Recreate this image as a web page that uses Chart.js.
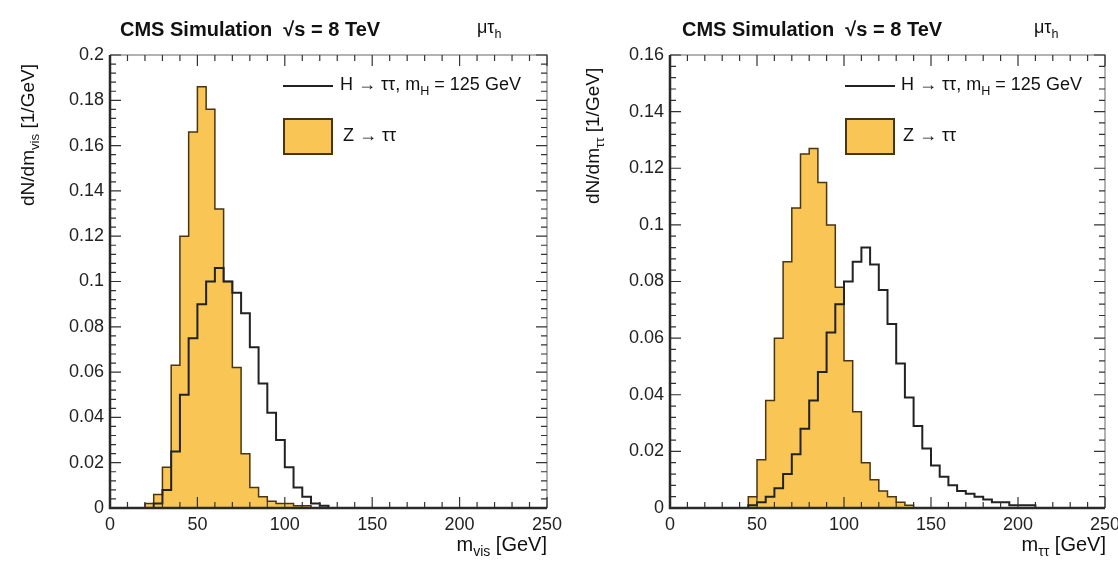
<!DOCTYPE html>
<html>
<head>
<meta charset="utf-8">
<script src="https://cdn.jsdelivr.net/npm/chart.js@4/dist/chart.umd.min.js"></script>
<style>
  body { margin: 0; background: #fff; font-family: "Liberation Sans", Arial, sans-serif; color: #111; }
  #wrap { position: relative; width: 1118px; height: 564px; overflow: hidden; }
  canvas { position: absolute; top: 0; }
  .txt { position: absolute; white-space: nowrap; }
  .head { font-weight: bold; font-size: 20px; top: 18px; }
  .chan { font-size: 18px; top: 17px; }
  .ytitle { font-size: 19px; transform-origin: left top; transform: rotate(-90deg); }
  .xtitle { font-size: 20px; top: 533px; text-align: right; }
  .leg { font-size: 18px; }
  sub { font-size: 70%; }
  .swline { position: absolute; height: 2px; background: #222; }
  .swbox { position: absolute; background: #f9c655; border: 2px solid #4a3510; box-sizing: border-box; }
</style>
</head>
<body>
<div id="wrap">
  <canvas id="left" width="580" height="564" style="left:0"></canvas>
  <canvas id="right" width="580" height="564" style="left:559px"></canvas>

  <div class="txt head" style="left:120px">CMS Simulation &nbsp;√s = 8 TeV</div>
  <div class="txt chan" style="left:477px">μτ<sub>h</sub></div>
  <div class="txt head" style="left:682px">CMS Simulation &nbsp;√s = 8 TeV</div>
  <div class="txt chan" style="left:1034px">μτ<sub>h</sub></div>

  <div class="txt ytitle" style="left:17px; top:206px">dN/dm<sub>vis</sub> [1/GeV]</div>
  <div class="txt ytitle" style="left:582px; top:204px">dN/dm<sub>ττ</sub> [1/GeV]</div>

  <div class="txt xtitle" style="left:0; width:547px">m<sub>vis</sub> [GeV]</div>
  <div class="txt xtitle" style="left:559px; width:547px">m<sub>ττ</sub> [GeV]</div>

  <div class="swline" style="left:283px; top:85px; width:50px"></div>
  <div class="txt leg" style="left:340px; top:74px">H → ττ, m<sub>H</sub> = 125 GeV</div>
  <div class="swbox" style="left:283px; top:118px; width:50px; height:37px"></div>
  <div class="txt leg" style="left:343px; top:125px">Z → ττ</div>

  <div class="swline" style="left:845px; top:85px; width:50px"></div>
  <div class="txt leg" style="left:901px; top:74px">H → ττ, m<sub>H</sub> = 125 GeV</div>
  <div class="swbox" style="left:845px; top:118px; width:50px; height:37px"></div>
  <div class="txt leg" style="left:903px; top:125px">Z → ττ</div>
</div>

<script>
// lower bin edges in GeV, 5 GeV wide bins
const massBins = [20, 25, 30, 35, 40, 45, 50, 55, 60, 65, 70, 75, 80, 85, 90, 95, 100, 105, 110, 115,
                  120, 125, 130, 135, 140, 145, 150, 155, 160, 165, 170, 175, 180, 185, 190, 195, 200, 205, 210, 215];
const binWidth = 5;

// visible mass
const zttVis = [0, 0.002, 0.006, 0.018, 0.063, 0.12, 0.166, 0.186, 0.176, 0.132, 0.1, 0.062, 0.024, 0.009, 0.005, 0.003, 0.002, 0.002, 0.001, 0.001,
                0, 0, 0, 0, 0, 0, 0, 0, 0, 0, 0, 0, 0, 0, 0, 0, 0, 0, 0, 0];
const httVis = [0, 0, 0.002, 0.008, 0.025, 0.05, 0.075, 0.09, 0.1, 0.106, 0.1, 0.095, 0.086, 0.071, 0.055, 0.042, 0.03, 0.018, 0.009, 0.005,
                0.002, 0.001, 0, 0, 0, 0, 0, 0, 0, 0, 0, 0, 0, 0, 0, 0, 0, 0, 0, 0];

// full (SVfit) mass
const zttMtt = [0, 0, 0, 0, 0, 0, 0.004, 0.017, 0.038, 0.06, 0.087, 0.106, 0.125, 0.127, 0.115, 0.1, 0.078, 0.052, 0.034, 0.016,
                0.01, 0.006, 0.004, 0.002, 0.001, 0, 0, 0, 0, 0, 0, 0, 0, 0, 0, 0, 0, 0, 0, 0];
const httMtt = [0, 0, 0, 0, 0, 0, 0.001, 0.002, 0.004, 0.007, 0.012, 0.019, 0.028, 0.038, 0.048, 0.062, 0.072, 0.08, 0.087, 0.092,
                0.086, 0.077, 0.065, 0.051, 0.039, 0.029, 0.021, 0.015, 0.011, 0.008, 0.006, 0.005, 0.004, 0.003, 0.002, 0.002, 0.001, 0.001, 0.001, 0];

const zFill = "#f9c655";
const zLine = "#4a3510";
const hLine = "#222";

// histogram -> stepped line points
function toSteps(values) {
  const pts = [{ x: massBins[0], y: 0 }];
  values.forEach((v, i) => pts.push({ x: massBins[i], y: v }));
  pts.push({ x: massBins[massBins.length - 1] + binWidth, y: 0 });
  return pts;
}

// ROOT-like frame with inner ticks
const framePlugin = {
  id: "frame",
  afterDatasetsDraw(chart) {
    const { ctx, chartArea: a, scales } = chart;
    ctx.save();
    ctx.strokeStyle = "#999";
    ctx.lineWidth = 1.5;
    ctx.beginPath();
    ctx.moveTo(a.left, a.top);
    ctx.lineTo(a.right, a.top);
    ctx.lineTo(a.right, a.bottom);
    ctx.stroke();

    ctx.strokeStyle = "#333";
    ctx.lineWidth = 1.2;
    ctx.beginPath();
    const xs = scales.x, ys = scales.y;
    for (let v = xs.min; v <= xs.max + 1e-9; v += 10) {
      const px = xs.getPixelForValue(v);
      const len = v % 50 === 0 ? 11 : 6;
      ctx.moveTo(px, a.bottom); ctx.lineTo(px, a.bottom - len);
      ctx.moveTo(px, a.top); ctx.lineTo(px, a.top + len);
    }
    const step = 0.004;
    for (let i = 0; i * step <= ys.max + 1e-9; i++) {
      const py = ys.getPixelForValue(i * step);
      const len = i % 5 === 0 ? 11 : 6;
      ctx.moveTo(a.left, py); ctx.lineTo(a.left + len, py);
      ctx.moveTo(a.right, py); ctx.lineTo(a.right - len, py);
    }
    ctx.stroke();

    ctx.strokeStyle = "#2a2a2a";
    ctx.lineWidth = 2.5;
    ctx.beginPath();
    ctx.moveTo(a.left, a.top);
    ctx.lineTo(a.left, a.bottom);
    ctx.lineTo(a.right, a.bottom);
    ctx.stroke();
    ctx.restore();
  },
};

const tickFont = { family: "Liberation Sans", size: 18 };

function makeChart(id, zVals, hVals, yMax, yWidth, padRight) {
  return new Chart(document.getElementById(id), {
    type: "line",
    data: {
      datasets: [
        {
          label: "H → ττ",
          data: toSteps(hVals),
          stepped: "after",
          borderColor: hLine,
          borderWidth: 2,
          fill: false,
        },
        {
          label: "Z → ττ",
          data: toSteps(zVals),
          stepped: "after",
          borderColor: zLine,
          borderWidth: 1.5,
          backgroundColor: zFill,
          fill: "origin",
        },
      ],
    },
    options: {
      responsive: false,
      animation: false,
      layout: { padding: { top: 55, right: padRight, left: 0, bottom: 0 } },
      elements: { point: { radius: 0 } },
      scales: {
        x: {
          type: "linear",
          min: 0,
          max: 250,
          grid: { display: false, drawTicks: false },
          border: { display: false },
          ticks: { stepSize: 50, padding: 6, color: "#222", font: tickFont },
          afterFit: (s) => {
            s.height = 56;
            s.paddingLeft = 0;
            s.paddingRight = 0;
          },
        },
        y: {
          min: 0,
          max: yMax,
          grid: { display: false, drawTicks: false },
          border: { display: false },
          ticks: {
            stepSize: 0.02,
            padding: 6,
            color: "#222",
            font: tickFont,
            callback: (v) => String(parseFloat(v.toFixed(2))),
          },
          afterFit: (s) => {
            s.width = yWidth;
            s.paddingTop = 0;
            s.paddingBottom = 0;
          },
        },
      },
      plugins: {
        legend: { display: false },
        tooltip: { enabled: false },
      },
    },
    plugins: [framePlugin],
  });
}

makeChart("left", zttVis, httVis, 0.2, 110, 33);
makeChart("right", zttMtt, httMtt, 0.16, 111, 34);
</script>
</body>
</html>
